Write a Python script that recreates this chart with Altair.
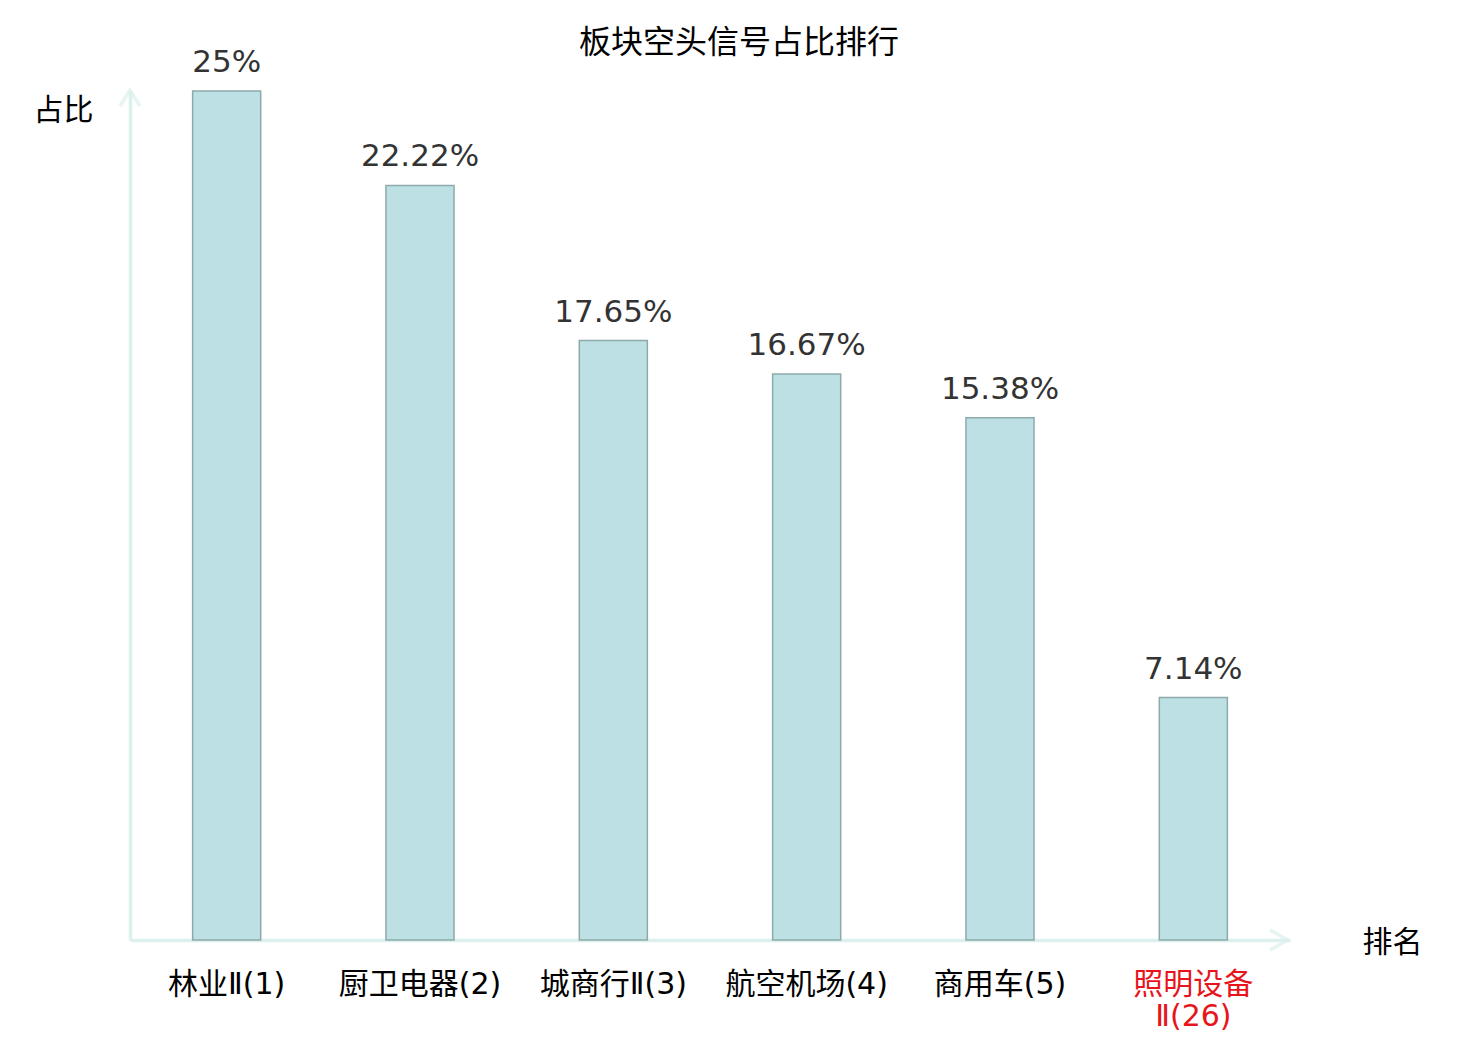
import altair as alt
import pandas as pd

categories = ["林业Ⅱ(1)", "厨卫电器(2)", "城商行Ⅱ(3)", "航空机场(4)", "商用车(5)", "照明设备Ⅱ(26)"]
values = [25, 22.22, 17.65, 16.67, 15.38, 7.14]
value_labels = ["25%", "22.22%", "17.65%", "16.67%", "15.38%", "7.14%"]
highlight = "照明设备Ⅱ(26)"

df = pd.DataFrame({"cat": categories, "v": values, "lab": value_labels})

AXIS_C = "#dcf0ed"
W, H = 1160, 849

x_enc = alt.X(
    "cat:N", sort=categories,
    scale=alt.Scale(paddingInner=0.648, paddingOuter=0.324),
    axis=alt.Axis(
        title="排名", titleAngle=0, titleAlign="left", titleBaseline="middle",
        titleX=1232, titleY=2, titleFontSize=30, titleFont="Noto Sans CJK SC",
        titleFontWeight="normal", titleColor="#000",
        labelAngle=0, labelFontSize=30, labelFont="DejaVu Sans, Noto Sans CJK SC",
        labelPadding=29, labelLineHeight=32,
        labelExpr="datum.value == '照明设备Ⅱ(26)' ? ['照明设备', 'Ⅱ(26)'] : datum.value",
        labelColor={"condition": {"test": "datum.value == '照明设备Ⅱ(26)'", "value": "#e8141b"}, "value": "#000"},
        ticks=False, domainColor=AXIS_C, domainWidth=3.5, grid=False,
    ),
)
y_enc = alt.Y(
    "v:Q", scale=alt.Scale(domain=[0, 25], nice=False, zero=True),
    axis=alt.Axis(
        title="占比", titleAngle=0, titleAlign="right", titleBaseline="middle",
        titleX=-37, titleY=19, titleFontSize=30, titleFont="Noto Sans CJK SC",
        titleFontWeight="normal", titleColor="#000",
        labels=False, ticks=False, grid=False, domainColor=AXIS_C, domainWidth=3.5,
    ),
)

bars = alt.Chart(df).mark_bar(color="#bce0e3", stroke="#8ea9aa", strokeWidth=1.5).encode(
    x=x_enc, y=y_enc
)
texts = alt.Chart(df).mark_text(
    baseline="alphabetic", dy=-19, fontSize=31, font="DejaVu Sans", color="#333333"
).encode(x=alt.X("cat:N", sort=categories), y="v:Q", text="lab:N")

y_arrow = alt.Chart(pd.DataFrame({"k": ["y"]})).mark_point(
    shape="M-1,1.6L0,0L1,1.6", filled=False, stroke=AXIS_C, strokeWidth=3.5, size=400
).encode(x=alt.value(0), y=alt.value(-1))
x_arrow = alt.Chart(pd.DataFrame({"k": ["x"]})).mark_point(
    shape="M-1.8,-1L0,0L-1.8,1", filled=False, stroke=AXIS_C, strokeWidth=3.5, size=400
).encode(x=alt.value(W - 2), y=alt.value(H))

chart = alt.layer(bars, texts, y_arrow, x_arrow).properties(
    width=W, height=H,
    title=alt.TitleParams("板块空头信号占比排行", fontSize=32, font="Noto Sans CJK SC",
                          fontWeight="normal", color="#000", anchor="middle", dx=29, dy=39, offset=26),
    autosize=alt.AutoSizeParams(type="none"),
    padding={"left": 122, "top": 83, "right": 180, "bottom": 100},
).configure_view(stroke=None)

chart.save("out.html", embed_options={"renderer": "svg", "actions": False})
